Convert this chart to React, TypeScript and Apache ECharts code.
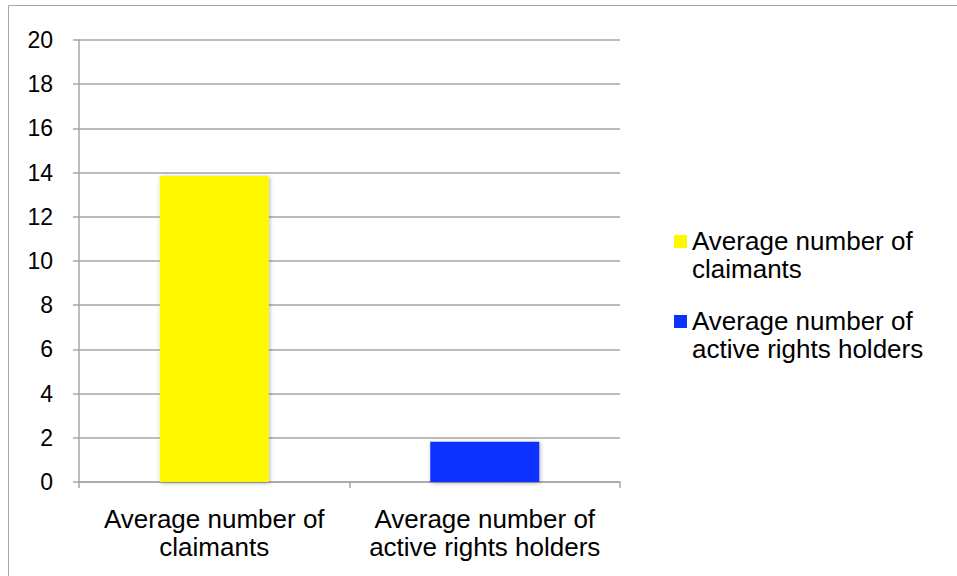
import React, { useEffect, useRef } from "react";
import * as echarts from "echarts";

const categories = ["Average number of claimants", "Average number of active rights holders"];
const seriesNames = ["Average number of claimants", "Average number of active rights holders"];
const claimantsValues = [13.85, "-"];
const holdersValues = ["-", 1.82];
const yTicks = { min: 0, max: 20, interval: 2 };
const colors = ["#FFF900", "#0A33FF"];

const FONT = "'Liberation Sans', Arial, sans-serif";
const GRAY = "#a6a6a6";

export default function App() {
  const ref = useRef<HTMLDivElement>(null);
  useEffect(() => {
    if (!ref.current) return;
    const chart = echarts.init(ref.current, null, { renderer: "svg" });
    const wrap = (s: string) => s.replace(" of ", " of\n");
    const barStyle = (c: string) => ({
      color: c,
      shadowBlur: 4,
      shadowColor: "rgba(0,0,0,0.3)",
      shadowOffsetX: 1,
      shadowOffsetY: 1,
    });
    chart.setOption({
      animation: false,
      backgroundColor: "#ffffff",
      textStyle: { fontFamily: FONT },
      graphic: [
        {
          type: "rect",
          shape: { x: 8.5, y: 5.5, width: 1200, height: 1200 },
          style: { fill: "none", stroke: GRAY, lineWidth: 1 },
          silent: true,
        },
      ],
      grid: { left: 79, right: 337, top: 40, bottom: 94, containLabel: false },
      legend: {
        orient: "vertical",
        left: 669,
        top: 222,
        itemGap: 24,
        itemWidth: 13,
        itemHeight: 40,
        icon: "path://M0,0L13,0L13,13L0,13Z M0,40L0.05,40",
        formatter: (n: string) => wrap(n),
        textStyle: { fontSize: 26, lineHeight: 28, color: "#000", fontFamily: FONT },
        data: seriesNames,
      },
      xAxis: {
        type: "category",
        data: categories,
        boundaryGap: true,
        axisLine: { show: true, lineStyle: { color: GRAY, width: 1.5 } },
        axisTick: { show: true, length: 6, alignWithLabel: false, lineStyle: { color: GRAY, width: 1.5 } },
        axisLabel: {
          formatter: (v: string) => wrap(v),
          fontSize: 26,
          lineHeight: 28,
          color: "#000",
          margin: 23,
          interval: 0,
          fontFamily: FONT,
        },
      },
      yAxis: {
        type: "value",
        min: yTicks.min,
        max: yTicks.max,
        interval: yTicks.interval,
        axisLine: { show: true, lineStyle: { color: GRAY, width: 1.5 } },
        axisTick: { show: true, length: 6, lineStyle: { color: GRAY, width: 1.5 } },
        splitLine: { show: true, lineStyle: { color: GRAY, width: 1.5 } },
        axisLabel: { fontSize: 23, color: "#000", margin: 26, fontFamily: FONT },
      },
      series: [
        {
          name: seriesNames[0],
          type: "bar",
          data: claimantsValues,
          barWidth: 109,
          barGap: "-100%",
          itemStyle: barStyle(colors[0]),
        },
        {
          name: seriesNames[1],
          type: "bar",
          data: holdersValues,
          barWidth: 109,
          barGap: "-100%",
          itemStyle: barStyle(colors[1]),
        },
      ],
    });
    return () => chart.dispose();
  }, []);
  return <div ref={ref} style={{ width: 957, height: 576, position: "absolute", left: 0, top: 0 }} />;
}
